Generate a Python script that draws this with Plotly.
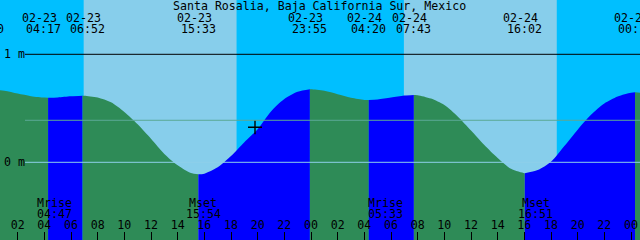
import plotly.graph_objects as go
import pandas as pd

# ---------------- data ----------------
title = "Santa Rosalia, Baja California Sur, Mexico"

# tide level (m), hourly from 02-23 00:00
curve_start = "2024-02-23 00:00"
curve_levels = [0.678, 0.662, 0.636, 0.612, 0.599, 0.601, 0.612, 0.617, 0.600, 0.555,
                0.466, 0.352, 0.218, 0.078, -0.028, -0.100, -0.105, -0.046, 0.058, 0.186,
                0.306, 0.470, 0.585, 0.653, 0.676, 0.662, 0.631, 0.598, 0.578, 0.581,
                0.599, 0.618, 0.622, 0.590, 0.530, 0.425, 0.295, 0.160, 0.040, -0.060,
                -0.101, -0.072, 0.005, 0.150, 0.302, 0.440, 0.545, 0.610, 0.645, 0.640]

# high / low tide events
tide_times = ["2024-02-22 23:40", "2024-02-23 04:17", "2024-02-23 06:52", "2024-02-23 15:33",
              "2024-02-23 23:55", "2024-02-24 04:20", "2024-02-24 07:43", "2024-02-24 16:02",
              "2024-02-25 00:18"]
tide_heights = [0.68, 0.598, 0.617, -0.111, 0.676, 0.577, 0.623, -0.102, 0.648]

# sunrise / sunset
sunrise_times = ["2024-02-23 06:57", "2024-02-24 06:58"]
sunset_times = ["2024-02-23 18:25", "2024-02-24 18:26"]

# moon events
moon_times = ["2024-02-23 04:47", "2024-02-23 15:54", "2024-02-24 05:33", "2024-02-24 16:51"]
moon_kinds = ["Mrise", "Mset", "Mrise", "Mset"]

midnights = ["2024-02-24 00:00", "2024-02-25 00:00"]

level_marks = [1, 0]
level_labels = ["1 m", "0 m"]
mean_level = 0.389

now_time = "2024-02-23 19:48"
now_level = 0.324

# ---------------- style ----------------
W, H = 640, 240
FONT = "DejaVu Sans Mono"
FS = 11.6
DAY = "#87CEEB"
NIGHT = "#00BFFF"
RISE = "#0000FF"
FALL = "#2E8B57"

x_lo = pd.Timestamp("2024-02-23 00:40:30")
x_hi = x_lo + pd.Timedelta(hours=48)
y_rng = [-0.7194, 1.5028]
y_base = y_rng[0] - 0.5


def paper_x(t):
    return (pd.Timestamp(t) - x_lo) / (x_hi - x_lo)


def paper_y(px):
    return 1 - px / H


fig = go.Figure()

# tide fills: rising = blue, falling = green
curve_t = pd.date_range(curve_start, periods=len(curve_levels), freq="h")
ev_t = pd.to_datetime(tide_times)
pts = pd.Series(list(curve_levels) + list(tide_heights), index=list(curve_t) + list(ev_t)).sort_index()
pts = pts[~pts.index.duplicated()]
bounds = list(ev_t) + [pts.index[-1]]
for a, b in zip(bounds[:-1], bounds[1:]):
    seg = pts[(pts.index >= a) & (pts.index <= b)]
    col = RISE if seg.iloc[-1] > seg.iloc[0] else FALL
    fig.add_trace(go.Scatter(x=[a, b], y=[y_base, y_base], mode="lines",
                             line=dict(width=0), hoverinfo="skip", showlegend=False))
    fig.add_trace(go.Scatter(x=seg.index, y=seg.values, mode="lines",
                             line=dict(width=0, color=col, shape="spline", smoothing=0.8),
                             fill="tonexty", fillcolor=col, hoverinfo="skip", showlegend=False))

# now mark
fig.add_trace(go.Scatter(x=[now_time], y=[now_level], mode="markers",
                         marker=dict(symbol="cross-thin", size=10,
                                     line=dict(width=1.4, color="black")),
                         hoverinfo="skip", showlegend=False))

shapes = []
for r, s in zip(sunrise_times, sunset_times):
    shapes.append(dict(type="rect", xref="x", yref="paper", x0=r, x1=s, y0=0, y1=1,
                       fillcolor=DAY, line=dict(width=0), layer="below"))
for lv, col in zip(level_marks, ["black", "#8ED0EA"]):
    shapes.append(dict(type="line", xref="paper", yref="y", x0=25 / W, x1=1, y0=lv, y1=lv,
                       line=dict(color=col, width=1), layer="above"))
shapes.append(dict(type="line", xref="paper", yref="y", x0=25 / W, x1=1, y0=mean_level, y1=mean_level,
                   line=dict(color="#5BA996", width=1), layer="above"))

ann = []
tf = dict(family=FONT, size=FS, color="black")
ann.append(dict(text=title, xref="paper", yref="paper", x=319.2 / W, y=paper_y(5.8),
                xanchor="center", yanchor="middle", showarrow=False, font=tf))
for lv, lab in zip(level_marks, level_labels):
    ann.append(dict(text=lab, xref="paper", yref="y", x=0, y=lv, xanchor="left", yanchor="middle",
                    xshift=1.5, showarrow=False, font=tf))

# tide event labels (nudged apart when events are close)
hours = [(t - ev_t[0]).total_seconds() / 3600 for t in ev_t]
for i, t in enumerate(ev_t):
    nudge = 0
    if i + 1 < len(ev_t) and hours[i + 1] - hours[i] < 2.7:
        nudge -= 4.5
    if i > 0 and hours[i] - hours[i - 1] < 2.7:
        nudge += 4.5
    ann.append(dict(text=t.strftime("%m-%d"), xref="paper", yref="paper", x=paper_x(t),
                    y=paper_y(18.2), xanchor="center", yanchor="middle", xshift=-4 + nudge,
                    showarrow=False, font=tf))
    ann.append(dict(text=t.strftime("%H:%M"), xref="paper", yref="paper", x=paper_x(t),
                    y=paper_y(29.2), xanchor="center", yanchor="middle", xshift=nudge,
                    showarrow=False, font=tf))

for t, k in zip(moon_times, moon_kinds):
    ts = pd.Timestamp(t)
    ann.append(dict(text=k, xref="x", yref="paper", x=ts, y=paper_y(202.5),
                    xanchor="center", yanchor="middle", showarrow=False, font=tf))
    ann.append(dict(text=ts.strftime("%H:%M"), xref="x", yref="paper", x=ts, y=paper_y(213.5),
                    xanchor="center", yanchor="middle", showarrow=False, font=tf))

common_x = dict(type="date", range=[x_lo, x_hi], showgrid=False, zeroline=False, showline=False,
                fixedrange=True)
fig.update_layout(
    width=W, height=H, margin=dict(l=0, r=0, t=0, b=0),
    paper_bgcolor=NIGHT, plot_bgcolor=NIGHT,
    showlegend=False,
    shapes=shapes, annotations=ann,
    font=tf,
    xaxis=dict(**common_x, tick0="2024-02-23 00:00", dtick=2 * 3600 * 1000, tickformat="%H",
               ticks="inside", ticklen=8, tickwidth=1, tickcolor="black",
               ticklabelposition="inside", tickfont=tf),
    xaxis2=dict(**common_x, overlaying="x", anchor="y", side="bottom", tickmode="array",
                tickvals=midnights, ticks="inside", ticklen=8, tickwidth=3, tickcolor="black",
                showticklabels=False),
    xaxis3=dict(**common_x, overlaying="x", anchor="y", side="bottom", tickmode="array",
                tickvals=moon_times, ticks="inside", ticklen=8, tickwidth=1, tickcolor="black",
                showticklabels=False),
    yaxis=dict(range=y_rng, showgrid=False, zeroline=False, showline=False,
               showticklabels=False, ticks="", fixedrange=True),
)

fig.write_html("out.html")
